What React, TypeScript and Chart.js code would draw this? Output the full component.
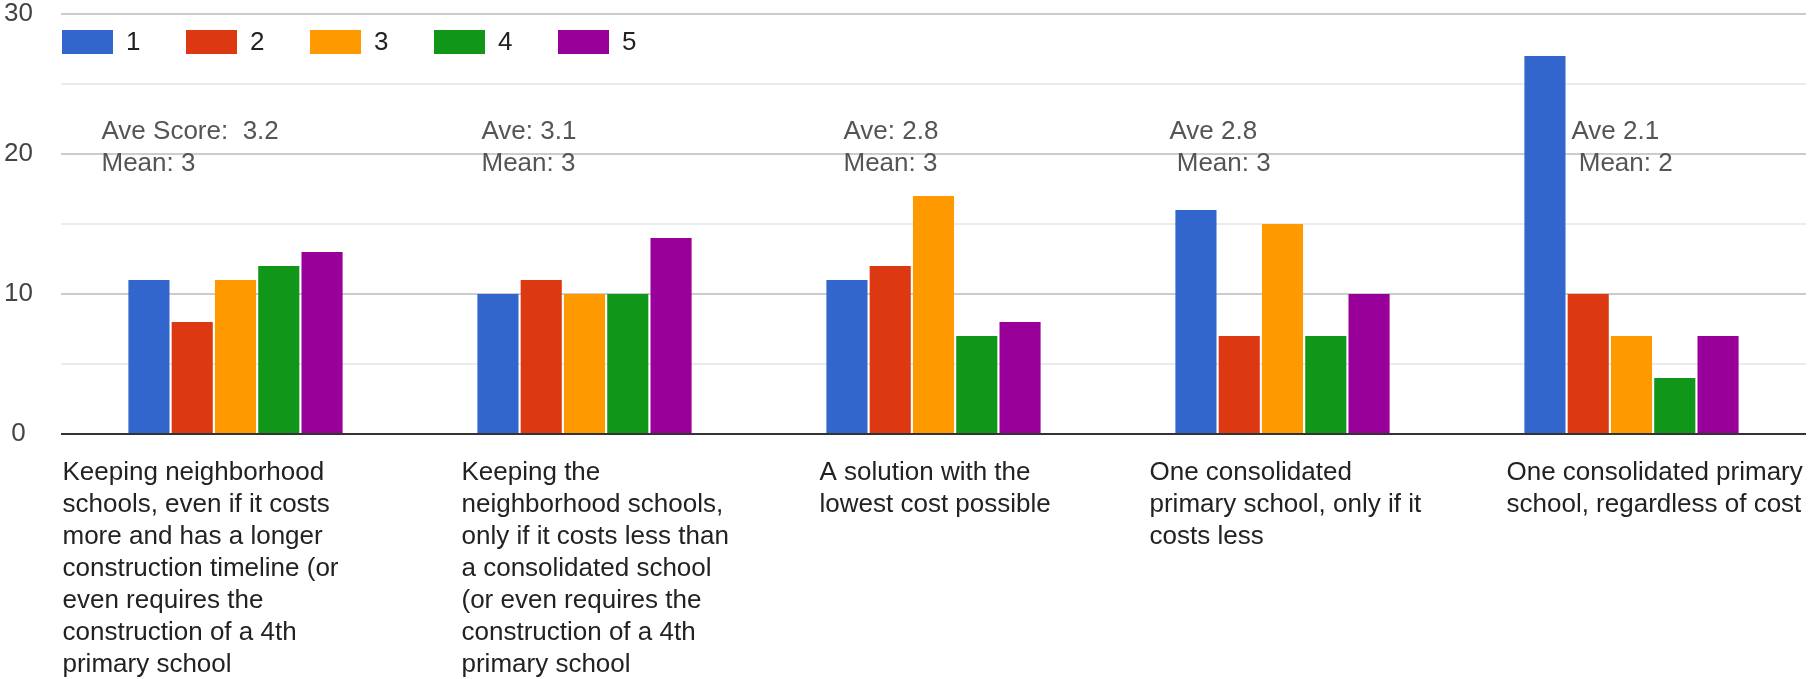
import React, { useEffect, useRef } from "react";
import { Chart, registerables } from "chart.js";

Chart.register(...registerables);

const categories: string[][] = [
  ["Keeping neighborhood", "schools, even if it costs", "more and has a longer", "construction timeline (or", "even requires the", "construction of a 4th", "primary school"],
  ["Keeping the", "neighborhood schools,", "only if it costs less than", "a consolidated school", "(or even requires the", "construction of a 4th", "primary school"],
  ["A solution with the", "lowest cost possible"],
  ["One consolidated", "primary school, only if it", "costs less"],
  ["One consolidated primary", "school, regardless of cost"],
];

const seriesNames = ["1", "2", "3", "4", "5"];
const score1 = [11, 10, 11, 16, 27];
const score2 = [8, 11, 12, 7, 10];
const score3 = [11, 10, 17, 15, 7];
const score4 = [12, 10, 7, 7, 4];
const score5 = [13, 14, 8, 10, 7];

const annotations: string[][] = [
  ["Ave Score:  3.2", "Mean: 3"],
  ["Ave: 3.1", "Mean: 3"],
  ["Ave: 2.8", "Mean: 3"],
  ["Ave 2.8", " Mean: 3"],
  ["Ave 2.1", " Mean: 2"],
];

const yTicks = [0, 10, 20, 30];

// layout / style (not data)
const colors = ["#3366cc", "#dc3912", "#ff9900", "#109618", "#990099"];
const labelOffsets = [-173, -123, -114, -133, -125];
const annotationOffsets = [-134, -103, -90, -113, -60];
const FONT = "Arial, 'Liberation Sans', sans-serif";

const overlayPlugin = {
  id: "overlay",
  afterDraw(chart: any) {
    const ctx = chart.ctx;
    const xs = chart.scales.x;
    const ys = chart.scales.y;
    const area = chart.chartArea;
    ctx.save();
    // category labels
    ctx.font = `26px ${FONT}`;
    ctx.fillStyle = "#222222";
    ctx.textAlign = "left";
    ctx.textBaseline = "alphabetic";
    categories.forEach((lines, i) => {
      const cx = xs.getPixelForValue(i);
      lines.forEach((ln, k) => {
        ctx.fillText(ln, cx + labelOffsets[i], area.bottom + 46 + k * 32);
      });
    });
    // annotations
    ctx.fillStyle = "#555555";
    annotations.forEach((lines, i) => {
      const cx = xs.getPixelForValue(i);
      const y0 = ys.getPixelForValue(21.1);
      lines.forEach((ln, k) => {
        ctx.fillText(ln, cx + annotationOffsets[i], y0 + k * 32);
      });
    });
    // legend
    let lx = area.left + 1;
    const boxTop = area.top + 16;
    chart.data.datasets.forEach((ds: any) => {
      ctx.fillStyle = ds.backgroundColor;
      ctx.fillRect(lx, boxTop, 51, 24);
      ctx.fillStyle = "#222222";
      ctx.textBaseline = "middle";
      ctx.font = `26px ${FONT}`;
      ctx.fillText(ds.label, lx + 64, boxTop + 13);
      lx += 124;
    });
    ctx.restore();
  },
};

export default function App() {
  const ref = useRef<HTMLCanvasElement | null>(null);
  useEffect(() => {
    document.body.style.margin = "0";
    const series = [score1, score2, score3, score4, score5];
    const chart = new Chart(ref.current as HTMLCanvasElement, {
      type: "bar",
      data: {
        labels: categories.map((c) => c.join(" ")),
        datasets: series.map((vals, i) => ({
          label: seriesNames[i],
          data: vals,
          backgroundColor: colors[i],
          borderWidth: 0,
          categoryPercentage: 0.62,
          barPercentage: 0.95,
        })),
      },
      options: {
        animation: false,
        responsive: false,
        maintainAspectRatio: false,
        layout: { padding: { top: 14, right: 2, bottom: 245, left: 0 } },
        plugins: { legend: { display: false }, tooltip: { enabled: false } },
        scales: {
          x: { display: false },
          y: {
            min: 0,
            max: 30,
            border: { display: false },
            afterFit: (s: any) => {
              s.width = 61;
              s.paddingTop = 0;
              s.paddingBottom = 0;
            },
            ticks: {
              stepSize: 5,
              padding: 28,
              crossAlign: "center",
              color: "#444444",
              font: { family: FONT, size: 26, lineHeight: 1 },
              callback: (v: any) => (yTicks.includes(Number(v)) ? String(v) : ""),
            },
            grid: {
              drawTicks: false,
              color: (c: any) => (c.tick.value === 0 ? "#333333" : c.tick.value % 10 === 0 ? "#cccccc" : "#ebebeb"),
              lineWidth: () => 2,
            },
          },
        },
      },
      plugins: [overlayPlugin],
    });
    return () => chart.destroy();
  }, []);
  return <canvas ref={ref} width={1808} height={679} style={{ display: "block" }} />;
}
